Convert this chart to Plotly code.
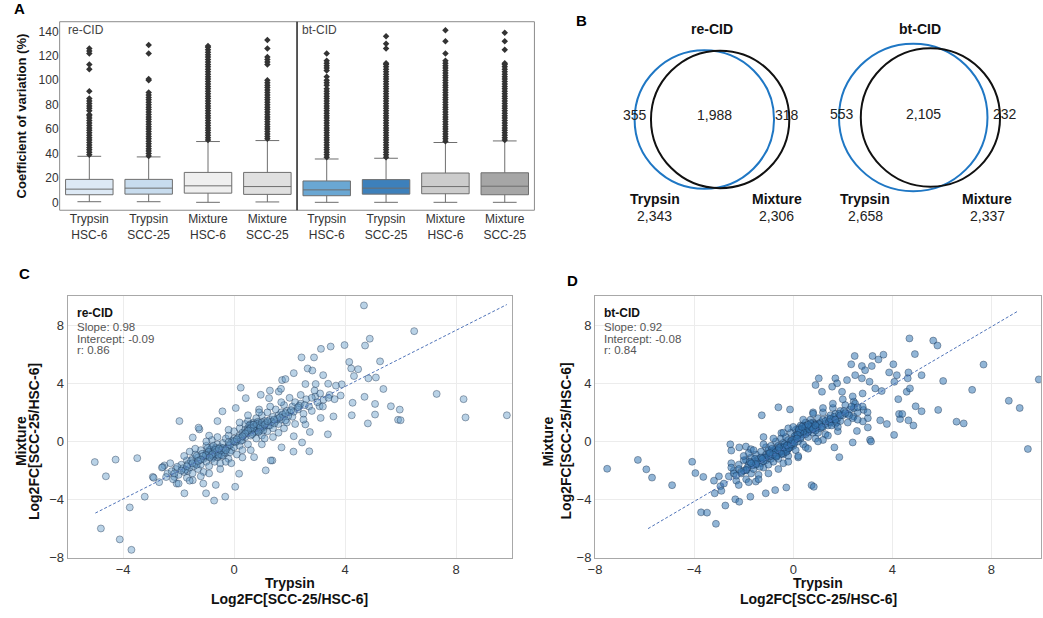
import math
import plotly.graph_objects as go

W, H = 1043, 618
FONT = "Liberation Sans, Arial, sans-serif"

# ---------------- Panel A data (coefficient of variation, %) ----------------
box_labels = ["Trypsin<br>HSC-6", "Trypsin<br>SCC-25", "Mixture<br>HSC-6", "Mixture<br>SCC-25"]
re_q1 = [6.2, 6.7, 7.5, 6.5]
re_median = [10.8, 11.6, 13.5, 12.9]
re_q3 = [18.8, 18.8, 24.5, 24.5]
re_low = [0.5, 0.5, 0.0, 0.3]
re_high = [37.7, 37.2, 49.8, 50.6]
bt_q1 = [5.4, 6.7, 7.0, 6.2]
bt_median = [10.2, 11.6, 12.9, 13.2]
bt_q3 = [17.5, 18.6, 24.0, 24.2]
bt_low = [0.0, 0.0, 0.0, 0.0]
bt_high = [35.5, 36.1, 49.0, 50.3]

re_out_trypsin_hsc = [39, 41, 43, 45, 47, 49, 51, 53, 55, 57, 59, 61, 63, 65, 67, 69, 71, 72,
                      75, 77, 79, 81, 83, 85, 91, 109, 113, 122, 124, 126]
re_out_trypsin_scc = [38, 40, 42, 44, 46, 48, 50, 52, 54, 56, 58, 60, 62, 64, 66, 68, 70, 72,
                      74, 76, 78, 80, 82, 84, 86, 88, 90, 100, 101, 122, 129]
re_out_mixture_hsc = [51, 53, 55, 57, 59, 61, 63, 65, 67, 69, 71, 73, 75, 77, 79, 81, 83, 85,
                      87, 89, 91, 93, 95, 97, 99, 101, 103, 105, 107, 109, 111, 113, 115, 117,
                      119, 121, 123, 125, 127, 128]
re_out_mixture_scc = [52, 54, 56, 58, 60, 62, 64, 66, 68, 70, 72, 74, 76, 78, 80, 82, 84, 86,
                      88, 90, 92, 94, 96, 98, 100, 113, 115, 117, 119, 126, 133]
bt_out_trypsin_hsc = [37, 39, 41, 43, 45, 47, 49, 51, 53, 55, 57, 59, 61, 63, 65, 67, 69, 71,
                      73, 75, 77, 79, 81, 83, 85, 87, 89, 91, 93, 96, 98, 100, 103, 108, 110,
                      112, 114, 116, 122]
bt_out_trypsin_scc = [37, 39, 41, 43, 45, 47, 49, 51, 53, 55, 57, 59, 61, 63, 65, 67, 69, 71,
                      73, 75, 77, 79, 81, 83, 85, 87, 89, 91, 93, 95, 97, 99, 101, 103, 105,
                      107, 109, 111, 113, 114, 126, 130, 136]
bt_out_mixture_hsc = [50, 52, 54, 56, 58, 60, 62, 64, 66, 68, 70, 72, 74, 76, 78, 80, 82, 84,
                      86, 88, 90, 92, 94, 96, 98, 100, 102, 104, 106, 108, 110, 112, 114, 116,
                      122, 132, 141]
bt_out_mixture_scc = [51, 53, 55, 57, 59, 61, 63, 65, 67, 69, 71, 73, 75, 77, 79, 81, 83, 85,
                      87, 89, 91, 93, 95, 97, 99, 101, 103, 105, 107, 109, 111, 113, 114,
                      125, 132, 139]
re_outliers = [re_out_trypsin_hsc, re_out_trypsin_scc, re_out_mixture_hsc, re_out_mixture_scc]
bt_outliers = [bt_out_trypsin_hsc, bt_out_trypsin_scc, bt_out_mixture_hsc, bt_out_mixture_scc]
re_colors = ["#dde9f5", "#c8dcee", "#efefef", "#e0e0e0"]
bt_colors = ["#6aa7d3", "#3d80bb", "#cccccc", "#a6a6a6"]

# ---------------- Panel B data (Venn counts) ----------------
venn_titles = ["re-CID", "bt-CID"]
venn_only_trypsin = [355, 553]
venn_both = [1988, 2105]
venn_only_mixture = [318, 232]

# ---------------- Panel C / D data (Log2FC SCC-25/HSC-6) ----------------
re_points = [
    (-5.02, -1.42), (-4.62, -2.4), (-4.8, -5.99), (-4.27, -1.25), (-4.12, -6.74), (-3.70, -7.46),
    (-3.76, -4.54), (-3.49, -1.15), (-3.22, -3.8), (-2.93, -2.44), (-2.51, -1.65), (-1.97, 1.4),
    (-1.79, -3.57), (-1.01, -3.57), (-0.72, -4.07), (-1.25, 0.83), (0.24, 3.7), (0.04, -3.12),
    (-2.57, -1.76), (-2.15, -2.44), (-2.07, -2.9), (-1.67, -2.03), (-1.49, -2.67), (-1.11, -2.9),
    (-0.66, -2.99), (-0.32, -3.8), (0.18, -2.22), (0.72, -1.08), (1.14, -1.99), (1.38, -1.31),
    (-1.49, 0.27), (-1.28, 0.95), (-0.6, 1.4), (-0.42, 2.07), (0.06, 2.3), (0.42, 2.98),
    (0.96, 3.21), (1.26, 2.98), (1.61, 3.43), (1.73, 4.22),
    (4.68, 9.36), (6.49, 7.59), (4.89, 7.07), (4.72, 6.6), (3.98, 6.63), (3.48, 6.53),
    (3.13, 6.37), (2.43, 5.78), (2.88, 5.78), (2.65, 5.02), (2.82, 4.88), (2.15, 4.7),
    (3.21, 4.56), (4.15, 5.47), (4.22, 5.02), (4.47, 4.97), (4.32, 4.5), (5.26, 5.51),
    (5.11, 4.4), (4.84, 4.34), (5.38, 3.61), (4.7, 3.07), (4.27, 2.66), (4.24, 1.8),
    (4.82, 1.24), (5.08, 2.58), (5.08, 1.85), (5.65, 2.42), (5.97, 2.19), (5.91, 1.49),
    (6.0, 1.46), (7.3, 3.27), (8.27, 2.91), (8.34, 1.65), (9.83, 1.8), (3.58, 1.72),
    (3.38, 0.49), (3.12, 1.62), (2.14, -0.7), (2.71, -0.68), (2.45, -0.07), (2.73, 0.65),
    (2.57, 1.17), (2.15, 0.36), (1.71, -0.41), (1.32, -1.31), (1.85, 4.29), (1.29, 3.5),
    (1.69, 3.62), (2.57, 3.95), (2.94, 3.95), (3.39, 3.97), (3.88, 3.93), (3.67, 3.84),
    (3.84, 3.16), (3.62, 2.91), (3.44, 3.2), (3.22, 2.87), (3.08, 2.42), (2.93, 3.09),
    (-2.4, -2.2), (-2.2, -2.6), (-2.1, -1.9), (-2.0, -2.3), (-1.9, -1.6), (-1.8, -2.1),
    (-1.7, -1.3), (-1.7, -2.5), (-1.6, -1.8), (-1.5, -1.2), (-1.5, -2.2), (-1.4, -1.5),
    (-1.4, -0.9), (-1.3, -1.9), (-1.3, -1.1), (-1.2, -0.6), (-1.2, -1.6), (-1.1, -1.2),
    (-1.1, -2.1), (-1.0, -0.8), (-1.0, -1.4), (-1.0, -0.3), (-0.9, -1.0), (-0.9, -1.7),
    (-0.9, -0.6), (-0.8, -0.8), (-0.8, -1.2), (-0.8, -0.4), (-0.8, 0.1), (-0.7, -0.7),
    (-0.7, -0.9), (-0.7, -1.4), (-0.7, -0.5), (-0.6, -0.8), (-0.6, -0.6), (-0.6, -1.1),
    (-0.6, -0.2), (-0.5, -0.7), (-0.5, -0.9), (-0.5, -0.4), (-0.5, -1.5), (-0.4, -0.6),
    (-0.4, -0.1), (-0.4, -1.0), (-0.3, -0.5), (-0.3, 0.2), (-0.3, -0.8), (-0.2, -0.3),
    (-0.2, -1.2), (-0.2, 0.4), (-0.1, -0.1), (-0.1, -0.6), (0.0, 0.2), (0.0, -0.4),
    (0.0, 0.7), (0.1, 0.0), (0.1, -0.9), (0.2, 0.4), (0.2, 0.9), (0.2, -0.3), (0.3, 0.6),
    (0.3, 0.1), (0.4, 0.8), (0.4, 1.2), (0.4, 0.3), (0.5, 0.9), (0.5, 0.6), (0.5, 1.4),
    (0.5, -0.2), (0.6, 1.0), (0.6, 0.8), (0.6, 1.2), (0.6, 0.4), (0.7, 1.0), (0.7, 0.9),
    (0.7, 1.3), (0.7, 0.6), (0.8, 1.1), (0.8, 0.8), (0.8, 1.6), (0.8, 0.2), (0.9, 1.0),
    (0.9, 1.3), (0.9, 0.7), (1.0, 1.2), (1.0, 0.9), (1.0, 1.8), (1.0, 0.4), (1.1, 1.4),
    (1.1, 1.0), (1.2, 1.3), (1.2, 0.7), (1.2, 2.0), (1.3, 1.5), (1.3, 1.1), (1.4, 1.7),
    (1.4, 0.9), (1.5, 1.4), (1.5, 2.2), (1.6, 1.8), (1.6, 1.2), (1.7, 2.0), (1.7, 1.5),
    (1.8, 1.7), (1.8, 2.5), (1.9, 2.1), (1.9, 1.3), (2.0, 2.0), (2.1, 2.4), (2.1, 1.7),
    (2.2, 2.7), (2.3, 2.2), (2.4, 2.6), (2.5, 1.9), (2.6, 2.9), (2.7, 2.4), (2.8, 3.0),
    (3.0, 2.7), (3.1, 3.3), (-2.7, -2.8), (-2.9, -2.5), (-2.6, -1.8), (-0.3, -1.4),
    (0.3, -0.6), (1.1, 0.2), (-1.6, -0.7), (1.6, 0.6), (-0.9, 0.4), (0.9, 2.2),
    (-0.85, -0.75), (-0.75, -0.65), (-0.65, -0.85), (-0.55, -0.75), (-0.95, -0.9),
    (-0.75, -1.05), (-0.45, -0.55), (-0.65, -0.45), (-0.85, -0.55), (-1.05, -1.05),
    (-0.35, -0.75), (-0.55, -1.0), (-0.95, -0.45), (-1.15, -0.85), (-0.25, -0.45),
    (-1.25, -1.3), (-0.45, -0.95), (-0.75, -0.3), (-1.35, -1.0), (-0.15, -0.75),
    (0.65, 0.95), (0.75, 1.05), (0.85, 0.95), (0.55, 0.85), (0.95, 1.15), (0.65, 1.15),
    (0.85, 0.75), (0.45, 0.65), (1.05, 1.05), (0.75, 0.7), (1.15, 1.25), (0.55, 1.1),
    (0.35, 0.45), (0.95, 0.85), (1.25, 1.1), (0.65, 0.5), (1.35, 1.35), (0.85, 1.35),
    (0.25, 0.25), (1.05, 0.75), (-1.85, -1.85), (-1.65, -1.55), (-1.45, -1.7), (-2.05, -1.75),
    (-1.75, -1.95), (-1.55, -1.35), (-2.25, -2.05), (-1.35, -1.6), (0.05, -0.05), (-0.05, 0.05),
    (0.15, 0.25), (-0.15, -0.25), (0.25, 0.05), (1.55, 1.55), (1.75, 1.85), (1.95, 1.75),
    (2.15, 2.05), (1.45, 1.25), (2.35, 2.45), (1.85, 1.45),
    (-2.3, -1.5), (-2.0, -2.9), (-1.8, -1.0), (-1.6, -2.7), (-1.4, -0.5), (-1.2, -2.4),
    (-1.0, 0.0), (-0.9, -2.2), (-0.6, 0.3), (-0.5, -1.9), (-0.2, 0.8), (-0.1, -1.5),
    (0.2, 1.3), (0.3, -1.1), (0.5, 1.8), (0.6, -0.6), (0.9, 2.0), (1.0, -0.2), (1.3, 2.4),
    (1.4, 0.3), (1.7, 2.7), (1.8, 0.9), (2.0, 3.0), (2.2, 1.2), (2.4, 3.2), (2.5, 1.5),
    (2.8, 2.1), (3.2, 2.4), (3.4, 3.0), (2.9, 3.5),
    (-0.72, -0.78), (-0.62, -0.7), (-0.82, -0.95), (-0.58, -0.92), (-0.92, -0.72),
    (-0.48, -0.62), (-0.68, -0.58), (-0.78, -0.88), (-1.02, -0.95), (-0.4, -0.45),
    (-0.88, -1.1), (-1.12, -1.0), (-0.3, -0.6), (-0.55, -0.5), (-1.2, -1.25),
    (0.72, 0.98), (0.8, 1.02), (0.68, 0.88), (0.9, 1.08), (0.6, 0.92), (0.82, 1.2),
    (0.95, 0.98), (0.5, 0.75), (1.0, 1.3), (0.7, 1.15), (1.1, 1.15), (0.4, 0.55), (1.2, 1.4),
    (0.88, 0.65), (0.3, 0.35), (-1.9, -2.0), (-1.7, -1.7), (-1.5, -1.5), (-1.3, -1.35),
    (-0.2, -0.05), (0.0, 0.0), (0.1, 0.15), (1.45, 1.5), (1.65, 1.65), (1.85, 1.95),
    (2.05, 2.15), (2.3, 2.35), (2.55, 2.5), (-2.15, -2.2), (-2.45, -2.45),
]
bt_points = [
    (-7.51, -1.88), (-6.27, -1.27), (-5.93, -1.92), (-5.7, -2.49), (-4.89, -3.01), (-4.08, -1.4),
    (-3.95, -2.18), (-3.63, -2.44), (-3.72, -4.88), (-3.48, -4.9), (-3.12, -5.67), (-3.17, -3.57),
    (-2.74, -4.41), (-2.34, -3.98), (-2.18, -4.15), (-2.94, -3.08), (-2.54, -0.2), (-2.5, -0.63),
    (-2.18, -0.41), (-1.91, -0.35), (-1.71, -0.53), (-1.91, -1.27), (-1.51, -2.76), (-1.11, -3.57),
    (-0.73, -3.35), (-1.73, -3.8), (-1.27, 1.8), (-0.6, 2.35), (-0.13, 2.2), (-0.48, 0.58),
    (4.69, 7.09), (5.65, 6.94), (5.82, 6.6), (4.91, 6.01), (3.64, 5.97), (3.2, 5.88),
    (3.44, 5.64), (2.48, 5.88), (2.34, 5.31), (2.77, 5.19), (2.9, 4.9), (3.17, 5.19),
    (4.04, 5.31), (3.87, 4.75), (4.18, 4.56), (4.65, 4.75), (5.18, 4.56), (4.62, 4.34),
    (6.05, 4.16), (7.68, 5.29), (9.91, 4.27), (7.22, 3.55), (8.7, 2.8), (9.14, 2.3),
    (9.47, -0.52), (6.59, 1.36), (6.88, 1.24), (5.85, 2.17), (5.18, 2.08), (4.94, 2.42),
    (4.85, 1.1), (4.65, 1.45), (4.31, 1.54), (4.27, 1.89), (4.4, 1.89), (4.07, 0.45),
    (4.24, 2.91), (4.58, 3.42), (4.71, 3.65), (4.08, 4.1), (3.1, 0.11), (3.14, 0.0),
    (3.51, 1.45), (3.78, 1.2), (3.01, 0.96), (2.57, 0.72), (2.4, -0.07), (1.86, -1.08),
    (1.66, -0.41), (0.74, -3.01), (0.83, -3.12), (-0.28, -3.17), (0.9, 3.88), (1.03, 4.34),
    (1.7, 4.34), (1.77, 4.0), (2.17, 4.22), (2.5, 4.56), (2.77, 4.34), (3.08, 4.11),
    (3.31, 3.65), (3.57, 3.47), (1.97, 3.42), (1.57, 3.77), (1.16, 3.42), (2.44, 2.74),
    (2.84, 2.17), (3.01, 1.6), (2.81, 1.38), (2.44, 1.72),
    (-2.6, -2.4), (-2.4, -2.0), (-2.3, -2.7), (-2.2, -1.6), (-2.1, -2.2), (-2.0, -1.3),
    (-1.9, -2.0), (-1.9, -2.6), (-1.8, -1.6), (-1.7, -1.1), (-1.7, -2.2), (-1.6, -1.4),
    (-1.6, -1.9), (-1.5, -0.9), (-1.5, -1.6), (-1.4, -1.2), (-1.4, -2.3), (-1.3, -1.5),
    (-1.3, -0.7), (-1.2, -1.1), (-1.2, -1.8), (-1.1, -0.9), (-1.1, -1.3), (-1.1, -0.4),
    (-1.0, -1.0), (-1.0, -1.6), (-1.0, -0.6), (-0.9, -0.8), (-0.9, -1.2), (-0.9, -0.3),
    (-0.8, -0.9), (-0.8, -0.6), (-0.8, -1.4), (-0.7, -0.7), (-0.7, -0.5), (-0.7, -1.0),
    (-0.7, 0.0), (-0.6, -0.6), (-0.6, -0.8), (-0.6, -0.3), (-0.6, -1.2), (-0.5, -0.5),
    (-0.5, -0.7), (-0.5, 0.2), (-0.4, -0.4), (-0.4, -0.9), (-0.4, -0.1), (-0.3, -0.3),
    (-0.3, -0.6), (-0.3, 0.3), (-0.2, -0.2), (-0.2, -1.0), (-0.2, 0.1), (-0.1, 0.0),
    (-0.1, -0.4), (-0.1, 0.6), (0.0, 0.1), (0.0, -0.3), (0.1, 0.3), (0.1, -0.6),
    (0.1, 0.8), (0.2, 0.4), (0.2, 0.0), (0.3, 0.6), (0.3, 0.2), (0.3, 1.1), (0.4, 0.8),
    (0.4, 0.5), (0.4, -0.2), (0.5, 0.9), (0.5, 0.6), (0.5, 1.3), (0.6, 1.0), (0.6, 0.7),
    (0.6, 0.3), (0.7, 1.1), (0.7, 0.8), (0.7, 1.5), (0.8, 1.0), (0.8, 0.6), (0.8, 1.3),
    (0.9, 1.2), (0.9, 0.9), (0.9, 0.2), (1.0, 1.1), (1.0, 1.6), (1.0, 0.6), (1.1, 1.3),
    (1.1, 0.9), (1.2, 1.5), (1.2, 1.0), (1.2, 2.0), (1.3, 1.2), (1.3, 0.5), (1.4, 1.6),
    (1.4, 1.1), (1.5, 1.8), (1.5, 1.3), (1.6, 1.5), (1.6, 2.3), (1.7, 1.9), (1.7, 1.2),
    (1.8, 1.6), (1.9, 2.1), (1.9, 1.4), (2.0, 1.8), (2.1, 2.5), (2.2, 1.9), (2.3, 2.2),
    (2.4, 1.6), (2.5, 2.6), (2.6, 2.0), (2.8, 2.4), (-2.8, -2.9), (-3.0, -2.4), (-2.5, -1.5),
    (-0.4, -1.5), (0.5, -0.4), (1.2, 0.1), (-1.8, -0.8), (1.8, 0.7), (-1.2, 0.3), (0.8, 2.0),
    (-0.2, 0.9), (0.2, -1.1),
    (-0.45, -0.6), (-0.35, -0.5), (-0.25, -0.65), (-0.55, -0.75), (-0.3, -0.4), (-0.6, -0.55),
    (-0.2, -0.5), (-0.4, -0.8), (-0.7, -0.85), (-0.15, -0.3), (-0.5, -0.35), (-0.8, -0.7),
    (-0.9, -1.0), (-1.0, -0.85), (-1.1, -1.1), (-0.65, -0.95), (-0.05, -0.15), (-0.35, -0.2),
    (-1.2, -1.35), (-0.85, -0.5), (0.35, 0.85), (0.45, 0.95), (0.55, 0.8), (0.25, 0.7),
    (0.65, 1.05), (0.4, 1.1), (0.6, 0.65), (0.15, 0.5), (0.75, 0.9), (0.5, 0.5), (0.85, 1.15),
    (0.3, 0.3), (0.95, 1.0), (0.7, 1.25), (1.05, 1.2), (0.2, 0.9), (1.15, 1.0), (0.05, 0.35),
    (1.3, 1.4), (0.9, 0.75), (-1.45, -1.4), (-1.65, -1.65), (-1.85, -1.8), (-1.3, -1.1),
    (-1.55, -1.2), (-2.0, -2.0), (-1.75, -1.4), (-2.2, -1.9), (-1.35, -1.75), (1.45, 1.35),
    (1.65, 1.7), (1.85, 1.9), (2.05, 2.1), (1.55, 1.1), (2.25, 1.8), (1.75, 1.3), (2.45, 2.3),
    (-2.4, -2.2), (0.0, -0.05), (0.1, 0.15),
    (-2.5, -1.8), (-2.2, -3.0), (-2.0, -1.0), (-1.8, -2.8), (-1.6, -0.6), (-1.4, -2.6),
    (-1.2, -0.2), (-1.0, -2.2), (-0.8, 0.2), (-0.6, -1.9), (-0.4, 0.6), (-0.2, -1.4),
    (0.0, 1.0), (0.2, -1.0), (0.4, 1.5), (0.6, -0.5), (0.8, 1.9), (1.0, 0.0), (1.2, 2.3),
    (1.4, 0.4), (1.6, 2.6), (1.8, 1.0), (2.0, 2.9), (2.2, 1.3), (2.4, 3.1), (2.6, 1.5),
    (2.8, 3.3), (3.0, 2.0), (-2.9, -3.4), (-3.2, -2.7),
    (-0.42, -0.62), (-0.32, -0.55), (-0.52, -0.68), (-0.28, -0.72), (-0.62, -0.62),
    (-0.38, -0.42), (-0.48, -0.85), (-0.18, -0.45), (-0.72, -0.75), (-0.58, -0.45),
    (-0.25, -0.28), (-0.82, -0.9), (-0.1, -0.2), (-0.95, -0.8), (-0.68, -1.05),
    (0.38, 0.88), (0.48, 0.92), (0.32, 0.78), (0.58, 0.95), (0.42, 0.72), (0.52, 1.05),
    (0.28, 0.62), (0.65, 0.82), (0.22, 0.8), (0.72, 1.0), (0.6, 1.15), (0.18, 0.45),
    (0.8, 0.85), (0.35, 1.0), (0.9, 1.1), (-1.5, -1.55), (-1.7, -1.5), (-1.9, -1.95),
    (-1.25, -1.2), (-2.1, -2.1), (1.5, 1.55), (1.7, 1.5), (1.9, 1.8), (2.1, 1.95),
    (2.35, 2.4), (-2.3, -2.35), (2.6, 2.35), (-0.05, 0.1), (0.05, -0.1), (0.15, 0.2),
]
re_fit_x = [-5.0, 9.83]
re_fit_y = [-4.93, 9.42]
bt_fit_x = [-5.86, 9.07]
bt_fit_y = [-6.0, 8.97]
stats_labels = ["re-CID", "bt-CID"]
stats_slope = ["0.98", "0.92"]
stats_intercept = ["-0.09", "-0.08"]
stats_r = ["0.86", "0.84"]


def fx(px):
    return px / W


def fy(py):
    return 1 - py / H


annotations = []


def ann(text, x, y, size=12, bold=False, color="#222222", xanchor="center",
        yanchor="middle", angle=0):
    if bold:
        text = "<b>" + text + "</b>"
    annotations.append(dict(text=text, x=fx(x), y=fy(y), xref="paper", yref="paper",
                            showarrow=False, xanchor=xanchor, yanchor=yanchor,
                            textangle=angle, borderpad=0,
                            font=dict(family=FONT, size=size, color=color)))


fig = go.Figure()

# ---------------- Panel A ----------------
for axis_id, q1, med, q3, lo, hi, cols, outs in [
    ("", re_q1, re_median, re_q3, re_low, re_high, re_colors, re_outliers),
    ("2", bt_q1, bt_median, bt_q3, bt_low, bt_high, bt_colors, bt_outliers),
]:
    for i, lab in enumerate(box_labels):
        fig.add_trace(go.Box(
            x=[lab], q1=[q1[i]], median=[med[i]], q3=[q3[i]],
            lowerfence=[lo[i]], upperfence=[hi[i]],
            fillcolor=cols[i], line=dict(color="#6e6e6e", width=1),
            whiskerwidth=0.5, width=0.8, boxpoints=False, showlegend=False,
            xaxis="x" + axis_id, yaxis="y" + axis_id, hoverinfo="skip"))
        fig.add_trace(go.Scatter(
            x=[lab] * len(outs[i]), y=outs[i], mode="markers",
            marker=dict(symbol="diamond", size=5, color="#333333"),
            showlegend=False, xaxis="x" + axis_id, yaxis="y" + axis_id, hoverinfo="skip"))

# ---------------- Panel B (Venn) ----------------
def lens_area(r1, r2, d):
    if d >= r1 + r2:
        return 0.0
    if d <= abs(r1 - r2):
        return math.pi * min(r1, r2) ** 2
    a1 = r1 * r1 * math.acos((d * d + r1 * r1 - r2 * r2) / (2 * d * r1))
    a2 = r2 * r2 * math.acos((d * d + r2 * r2 - r1 * r1) / (2 * d * r2))
    a3 = 0.5 * math.sqrt((-d + r1 + r2) * (d + r1 - r2) * (d - r1 + r2) * (d + r1 + r2))
    return a1 + a2 - a3


def solve_distance(r1, r2, target):
    lo, hi = abs(r1 - r2), r1 + r2
    for _ in range(80):
        mid = (lo + hi) / 2
        if lens_area(r1, r2, mid) > target:
            lo = mid
        else:
            hi = mid
    return (lo + hi) / 2


shapes = []
venn_k = 1.45  # pixel-units per sqrt(count)
venn_centers = [(710, 121), (921, 119)]
venn_label_pos = [
    dict(title=(710, 29), left=(632, 117), mid=(712, 117), right=(785, 117),
         tr=(652, 202), mx=(775, 202)),
    dict(title=(919, 29), left=(841, 115), mid=(923, 115), right=(1005, 115),
         tr=(864, 202), mx=(987, 202)),
]
for i in range(2):
    tot_t = venn_only_trypsin[i] + venn_both[i]
    tot_m = venn_only_mixture[i] + venn_both[i]
    r_t = venn_k * math.sqrt(tot_t)
    r_m = venn_k * math.sqrt(tot_m)
    d = solve_distance(r_t, r_m, math.pi * venn_k ** 2 * venn_both[i])
    cx, cy = venn_centers[i]
    ct = cx - d / 2
    cm = cx + d / 2
    shapes.append(dict(type="circle", xref="x3", yref="y3", x0=ct - r_t, x1=ct + r_t,
                       y0=cy - r_t, y1=cy + r_t, line=dict(color="#1f77c4", width=2)))
    shapes.append(dict(type="circle", xref="x3", yref="y3", x0=cm - r_m, x1=cm + r_m,
                       y0=cy - r_m, y1=cy + r_m, line=dict(color="#111111", width=2)))
    p = venn_label_pos[i]
    ann(venn_titles[i], *p["title"], size=14, bold=True, color="#111")
    ann(str(venn_only_trypsin[i]), *p["left"], size=14)
    ann(f"{venn_both[i]:,}", *p["mid"], size=14)
    ann(str(venn_only_mixture[i]), *p["right"], size=14)
    ann("Trypsin", *p["tr"], size=14, bold=True, color="#111")
    ann(f"{tot_t:,}", p["tr"][0], p["tr"][1] + 17, size=14)
    ann("Mixture", *p["mx"], size=14, bold=True, color="#111")
    ann(f"{tot_m:,}", p["mx"][0], p["mx"][1] + 17, size=14)

fig.add_trace(go.Scatter(x=[600], y=[100], mode="markers", marker=dict(opacity=0),
                         xaxis="x3", yaxis="y3", showlegend=False, hoverinfo="skip"))

# ---------------- Panels C / D ----------------
for axis_id, pts, fitx, fity, col in [
    ("4", re_points, re_fit_x, re_fit_y, "rgba(100,155,200,0.45)"),
    ("5", bt_points, bt_fit_x, bt_fit_y, "rgba(55,120,180,0.55)"),
]:
    fig.add_trace(go.Scatter(
        x=[p[0] for p in pts], y=[p[1] for p in pts], mode="markers",
        marker=dict(size=7, color=col, line=dict(width=0.6, color="rgba(20,40,70,0.65)")),
        showlegend=False, xaxis="x" + axis_id, yaxis="y" + axis_id, hoverinfo="skip"))
    fig.add_trace(go.Scatter(
        x=fitx, y=fity, mode="lines", line=dict(color="#4f73b8", width=1, dash="3px,2px"),
        showlegend=False, xaxis="x" + axis_id, yaxis="y" + axis_id, hoverinfo="skip"))

# frames & dividers for A
shapes.append(dict(type="rect", xref="paper", yref="paper", x0=fx(53), x1=fx(531),
                   y0=fy(213), y1=fy(22), line=dict(color="#8c8c8c", width=1)))
shapes.append(dict(type="line", xref="paper", yref="paper", x0=fx(292), x1=fx(292),
                   y0=fy(213), y1=fy(22), line=dict(color="#222222", width=1.5)))

# text annotations
ann("A", 13, 9, size=15, bold=True, color="#000")
ann("B", 578, 21, size=15, bold=True, color="#000")
ann("C", 18, 277, size=15, bold=True, color="#000")
ann("D", 569, 284, size=15, bold=True, color="#000")
ann("Coefficient of variation (%)", 15, 117, size=13, bold=True, color="#111", angle=-90)
ann("re-CID", 60, 30, size=12, color="#444", xanchor="left")
ann("bt-CID", 296, 30, size=12, color="#444", xanchor="left")

# C / D texts
for i, (left, center, mix_x, log_x) in enumerate([(61, 284.5, 14, 27), (592, 816.5, 545, 563)]):
    ann(stats_labels[i], left + 8, 317, size=12, bold=True, color="#111", xanchor="left")
    ann("Slope: " + stats_slope[i], left + 8, 331, size=11.5, color="#555", xanchor="left")
    ann("Intercept: " + stats_intercept[i], left + 8, 343, size=11.5, color="#555", xanchor="left")
    ann("r: " + stats_r[i], left + 8, 355, size=11.5, color="#555", xanchor="left")
    ann("Trypsin", center, 591, size=14, bold=True, color="#111")
    ann("Log2FC[SCC-25/HSC-6]", center, 607, size=14, bold=True, color="#111")
    ann("Mixture", mix_x, 447, size=14, bold=True, color="#111", angle=-90)
    ann("Log2FC[SCC-25/HSC-6]", log_x, 447, size=14, bold=True, color="#111", angle=-90)

tickfont_a = dict(family=FONT, size=12, color="#333")
tickfont_s = dict(family=FONT, size=13, color="#333")

scatter_axis = dict(showgrid=True, gridcolor="#ececec", gridwidth=1, zeroline=False,
                    showline=True, mirror=True, linecolor="#a8a8a8", linewidth=1,
                    ticks="", tickfont=tickfont_s)

fig.update_layout(
    width=W, height=H, margin=dict(l=0, r=0, t=0, b=0),
    paper_bgcolor="white", plot_bgcolor="white",
    font=dict(family=FONT), boxmode="overlay",
    xaxis=dict(domain=[fx(53), fx(292)], anchor="y", type="category",
               categoryorder="array", categoryarray=box_labels, range=[-0.5, 3.5],
               showgrid=False, zeroline=False, showline=False, ticks="", tickfont=tickfont_a),
    yaxis=dict(domain=[fy(213), fy(22)], anchor="x", range=[-6.5, 148],
               tickvals=[0, 20, 40, 60, 80, 100, 120, 140], showgrid=False, zeroline=False,
               showline=False, ticks="", tickfont=tickfont_a),
    xaxis2=dict(domain=[fx(292), fx(531)], anchor="y2", type="category",
                categoryorder="array", categoryarray=box_labels, range=[-0.5, 3.5],
                showgrid=False, zeroline=False, showline=False, ticks="", tickfont=tickfont_a),
    yaxis2=dict(domain=[fy(213), fy(22)], anchor="x2", range=[-6.5, 148],
                showticklabels=False, showgrid=False, zeroline=False, showline=False, ticks=""),
    xaxis3=dict(domain=[fx(560), 1.0], anchor="y3", range=[560, 1043], visible=False),
    yaxis3=dict(domain=[fy(240), 1.0], anchor="x3", range=[240, 0], visible=False),
    xaxis4=dict(domain=[fx(61), fx(508)], anchor="y4", range=[-6, 10],
                tickvals=[-4, 0, 4, 8], **scatter_axis),
    yaxis4=dict(domain=[fy(565), fy(300)], anchor="x4", range=[-8, 10],
                tickvals=[-8, -4, 0, 4, 8], **scatter_axis),
    xaxis5=dict(domain=[fx(592), fx(1041)], anchor="y5", range=[-8, 10],
                tickvals=[-8, -4, 0, 4, 8], **scatter_axis),
    yaxis5=dict(domain=[fy(565), fy(300)], anchor="x5", range=[-8, 10],
                tickvals=[-8, -4, 0, 4, 8], **scatter_axis),
    shapes=shapes,
    annotations=annotations,
)

fig.write_html("out.html", config={"displayModeBar": False},
               post_script="document.body.style.margin='0';")
